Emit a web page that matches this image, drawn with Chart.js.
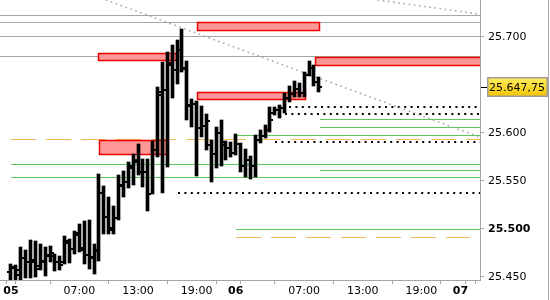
<!DOCTYPE html>
<html><head><meta charset="utf-8">
<script src="https://cdn.jsdelivr.net/npm/chart.js@4.4.1/dist/chart.umd.min.js"></script>
<style>html,body{margin:0;padding:0;background:#fff}canvas{display:block}</style>
</head><body>
<canvas id="c" width="550" height="300"></canvas>
<script>
// 30-minute bars, slot index 0 = "05 00:00"
const times = ['05 00:00','05 00:30','05 01:00','05 01:30','05 02:00','05 02:30','05 03:00','05 03:30','05 04:00','05 04:30',
'05 05:00','05 05:30','05 06:00','05 06:30','05 07:00','05 07:30','05 08:00','05 08:30','05 09:00','05 09:30',
'05 10:00','05 10:30','05 11:00','05 11:30','05 12:00','05 12:30','05 13:00','05 13:30','05 14:00','05 14:30',
'05 15:00','05 15:30','05 16:00','05 16:30','05 17:00','05 17:30','05 18:00','05 18:30','05 19:00','05 19:30',
'05 20:00','05 20:30','05 21:00','05 21:30','05 22:00','05 22:30','06 00:00','06 00:30','06 01:00','06 01:30',
'06 02:00','06 02:30','06 03:00','06 03:30','06 04:00','06 04:30','06 05:00','06 05:30','06 06:00','06 06:30',
'06 07:00','06 07:30','06 08:00','06 08:30'];
const opens = [25455.0,25459.0,25451.75,25469.5,25465.25,25465.25,25461.25,25465.25,25471.5,25471.5,
25465.25,25465.25,25485.0,25478.75,25493.5,25480.0,25472.5,25469.5,25477.75,25537.25,
25512.25,25500.75,25511.25,25544.5,25548.75,25563.25,25569.5,25559.0,25559.0,25536.25,
25582.0,25639.25,25644.5,25670.5,25665.25,25686.0,25667.5,25627.75,25630.0,25604.75,
25607.0,25587.25,25577.75,25599.75,25587.25,25584.0,25578.75,25588.25,25565.25,25571.5,
25565.25,25592.5,25596.5,25602.75,25620.5,25623.5,25625.75,25636.25,25640.25,25645.5,
25641.5,25660.0,25667.5,25652.75];
const highs = [25463.25,25461.75,25481.0,25477.75,25488.25,25487.25,25484.0,25481.0,25482.0,25473.5,
25471.5,25492.5,25489.25,25497.5,25505.0,25508.0,25509.0,25484.0,25557.0,25544.5,
25533.0,25523.5,25556.0,25560.0,25569.5,25577.75,25588.25,25572.5,25572.5,25591.5,
25647.5,25673.5,25684.0,25691.5,25696.5,25708.0,25674.75,25635.0,25633.0,25627.75,
25619.5,25592.5,25606.0,25613.25,25591.5,25590.25,25598.75,25589.25,25583.0,25575.75,
25597.5,25602.75,25608.0,25626.75,25626.75,25628.75,25641.5,25648.5,25653.75,25651.75,
25663.25,25674.75,25670.5,25658.0];
const lows = [25444.0,25444.0,25444.5,25448.75,25448.75,25449.75,25457.0,25450.75,25465.25,25456.0,
25457.0,25463.25,25464.25,25473.5,25475.75,25463.25,25458.0,25452.75,25466.5,25494.5,
25494.5,25494.5,25509.0,25533.0,25542.5,25545.5,25556.0,25543.5,25518.5,25536.25,
25574.75,25537.25,25564.25,25636.25,25650.75,25663.25,25613.25,25606.0,25554.75,25595.5,
25582.0,25548.75,25563.25,25565.25,25571.5,25574.75,25576.75,25559.0,25554.0,25551.75,
25554.0,25589.25,25594.5,25600.75,25618.5,25615.25,25620.5,25632.0,25637.25,25637.25,
25637.25,25659.0,25648.5,25642.5];
const closes = [25460.0,25457.0,25469.5,25465.25,25467.5,25458.0,25466.5,25472.5,25474.75,25465.25,
25462.25,25487.25,25478.75,25495.5,25477.75,25472.5,25470.5,25476.75,25537.25,25512.25,
25498.75,25511.25,25545.5,25548.75,25565.25,25571.5,25559.0,25559.0,25536.25,25582.0,
25642.5,25644.5,25672.5,25665.25,25686.0,25666.5,25628.75,25630.0,25604.75,25607.0,
25612.25,25577.75,25599.75,25590.25,25584.0,25578.75,25588.25,25565.25,25571.5,25565.25,
25592.5,25596.5,25602.75,25613.25,25623.5,25625.75,25636.25,25640.25,25645.5,25641.5,
25660.0,25667.5,25652.75,25647.75];

// axis ticks
const xTickSlots  = [0, 2, 14, 26, 38, 46, 48, 60, 72, 84, 92, 94];
const xTickLabels = ['05', '', '07:00', '13:00', '19:00', '06', '', '07:00', '13:00', '19:00', '07', ''];
const dayTickSlots = [0, 46, 92];
const yTickValues = [25450, 25500, 25550, 25600, 25700];
const boldYTicks = [25500];

// drawn levels (price) and their start/end slots
const grayLevels = [25722.5, 25715.75, 25700.75, 25679.5];
const grayStarts = [-3, -3, -3, -3];
const greenLevels = [25614.25, 25606.0, 25597.25, 25567.0, 25560.75, 25554.0, 25499.5];
const greenStarts = [63.2, 63.2, 46, 0, 63.2, 0, 46];
const orangeLevels = [25593.0, 25491.0];
const orangeStarts = [0, 46];
const orangeEnds = [97, 94];
const dottedLevels = [25627.0, 25619.75, 25590.75, 25537.0];
const dottedStarts = [56.9, 56, 54, 34.2];
// zones: [start slot, end slot, top price, bottom price]
const zoneStart = [17.9, 38.1, 38.1, 62.2, 18.0];
const zoneEnd   = [34.05, 63.3, 60.3, 97, 32.05];
const zoneTop   = [25682.75, 25715.5, 25642.0, 25679.25, 25592.5];
const zoneBottom= [25675.0, 25706.25, 25633.75, 25669.75, 25576.5];
// trend lines: two anchors each
const trendX1 = [19.43, 75.05];
const trendY1 = [25738.25, 25738.25];
const trendX2 = [95.9, 95.9];
const trendY2 = [25595.5, 25723.5];

const FONT = 'DejaVu Sans';

const annotations = {
  id: 'annotations',
  afterDatasetsUpdate(chart) {
    // snap the high-low bars to whole pixels so they stay crisp
    chart.getDatasetMeta(0).data.forEach(el => {
      el.x = Math.round(el.x - 1.5) + 1.5;
      el.y = Math.round(el.y);
      el.base = Math.round(el.base);
    });
  },
  beforeDatasetsDraw(chart) {
    const {ctx, chartArea: a, scales: {x, y}} = chart;
    ctx.save();
    ctx.beginPath(); ctx.rect(a.left, a.top, a.right - a.left, a.bottom - a.top); ctx.clip();
    const hline = (v, s, e, color, w, dash) => {
      const py = Math.round(y.getPixelForValue(v)) + (w % 2 ? 0.5 : 0);
      ctx.strokeStyle = color; ctx.lineWidth = w; ctx.setLineDash(dash || []);
      ctx.beginPath();
      ctx.moveTo(Math.round(x.getPixelForValue(s)), py);
      ctx.lineTo(Math.round(x.getPixelForValue(e)), py);
      ctx.stroke();
    };
    grayLevels.forEach((v, i) => hline(v, grayStarts[i], 97, '#a6a6a6', 1));
    greenLevels.forEach((v, i) => hline(v, greenStarts[i], 97, '#5cc85c', 1));
    orangeLevels.forEach((v, i) => hline(v, orangeStarts[i], orangeEnds[i], '#f2b95a', 1, [25, 10]));
    dottedLevels.forEach((v, i) => hline(v, dottedStarts[i], 97, '#000', 2, [2, 4.4]));
    // trend lines
    ctx.strokeStyle = '#a8a8a8'; ctx.lineWidth = 1.6; ctx.setLineDash([1.6, 3.6]);
    trendX1.forEach((t, i) => {
      ctx.beginPath();
      ctx.moveTo(x.getPixelForValue(t), y.getPixelForValue(trendY1[i]));
      ctx.lineTo(x.getPixelForValue(trendX2[i]), y.getPixelForValue(trendY2[i]));
      ctx.stroke();
    });
    ctx.setLineDash([]);
    // zones
    zoneStart.forEach((s, i) => {
      const x1 = Math.round(x.getPixelForValue(s)), x2 = Math.round(x.getPixelForValue(zoneEnd[i]));
      const y1 = Math.round(y.getPixelForValue(zoneTop[i])), y2 = Math.round(y.getPixelForValue(zoneBottom[i]));
      ctx.fillStyle = '#ff9797';
      ctx.fillRect(x1, y1, x2 - x1, y2 - y1);
      ctx.strokeStyle = '#f00000'; ctx.lineWidth = 1.5;
      ctx.strokeRect(x1 + 0.5, y1 + 0.5, x2 - x1 - 1, y2 - y1 - 1);
    });
    ctx.restore();
  },
  afterDatasetsDraw(chart) {
    const {ctx, scales: {y}} = chart;
    const bars = chart.getDatasetMeta(0).data;
    ctx.save();
    ctx.fillStyle = '#000';
    opens.forEach((o, i) => {
      const px = bars[i].x;
      ctx.fillRect(px - 1.5 - 2, Math.round(y.getPixelForValue(o)) - 1, 2, 2);
      ctx.fillRect(px + 1.5, Math.round(y.getPixelForValue(closes[i])) - 1, 2, 2);
    });
    ctx.restore();
  },
  afterDraw(chart) {
    const {ctx, scales: {y}} = chart;
    const v = closes[closes.length - 1];
    const py = Math.round(y.getPixelForValue(v));
    ctx.save();
    ctx.fillStyle = '#000';
    ctx.fillRect(y.left + 1, py, 6, 1);
    const bx = y.left + 7, bw = 61, bh = 20, by = py - 10;
    const g = ctx.createLinearGradient(0, by, 0, by + bh);
    g.addColorStop(0, '#fff060'); g.addColorStop(1, '#f2c200');
    ctx.fillStyle = g; ctx.fillRect(bx, by, bw, bh);
    ctx.strokeStyle = '#9c9c9c'; ctx.lineWidth = 1.5;
    ctx.strokeRect(bx + 0.75, by + 0.75, bw - 1.5, bh - 1.5);
    const ip = Math.floor(v), s = String(ip);
    const txt = s.slice(0, -3) + '.' + s.slice(-3) + ',' + (v - ip).toFixed(2).slice(2);
    ctx.fillStyle = '#000'; ctx.font = '11px "' + FONT + '"';
    ctx.textBaseline = 'middle'; ctx.textAlign = 'left';
    ctx.fillText(txt, bx + 2, py + 1);
    // outer frame on the right
    ctx.fillStyle = '#a8a8a8';
    ctx.fillRect(548, 0, 1, 300);
    ctx.restore();
  }
};

new Chart(document.getElementById('c'), {
  type: 'bar',
  data: {
    labels: times,
    datasets: [{
      data: lows.map((l, i) => ({x: i, y: [l, highs[i]]})),
      backgroundColor: '#000',
      borderWidth: 0,
      barThickness: 3
    }]
  },
  options: {
    responsive: false,
    devicePixelRatio: 1,
    animation: false,
    layout: {padding: 0},
    plugins: {legend: {display: false}, tooltip: {enabled: false}},
    scales: {
      x: {
        type: 'linear', min: -2.25, max: 96, offset: false, position: 'bottom',
        border: {color: '#a6a6a6'},
        grid: {drawOnChartArea: false, drawTicks: true, tickLength: 4, color: '#a6a6a6'},
        ticks: {
          autoSkip: false, maxRotation: 0, padding: 1, color: '#000',
          font: (c) => ({family: FONT, size: 11, weight: (c.tick && dayTickSlots.includes(c.tick.value)) ? 'bold' : 'normal'}),
          callback: (v) => { const k = xTickSlots.indexOf(v); return k >= 0 ? xTickLabels[k] : ''; }
        },
        afterBuildTicks: (s) => { s.ticks = xTickSlots.map(v => ({value: v})); },
        afterFit: (s) => { s.height = 20; s.paddingLeft = 0; s.paddingRight = 0; }
      },
      y: {
        type: 'linear', position: 'right', min: 25446.56, max: 25738.23,
        border: {color: '#a6a6a6'},
        grid: {drawOnChartArea: false, drawTicks: true, tickLength: 4, color: '#a6a6a6'},
        ticks: {
          padding: 4, color: '#000',
          font: (c) => ({family: FONT, size: 11, weight: (c.tick && boldYTicks.includes(c.tick.value)) ? 'bold' : 'normal'}),
          callback: (v) => (v / 1000).toFixed(3)
        },
        afterBuildTicks: (s) => { s.ticks = yTickValues.map(v => ({value: v})); },
        afterFit: (s) => { s.width = 70; s.paddingTop = 0; s.paddingBottom = 0; }
      }
    }
  },
  plugins: [annotations]
});
</script>
</body></html>
